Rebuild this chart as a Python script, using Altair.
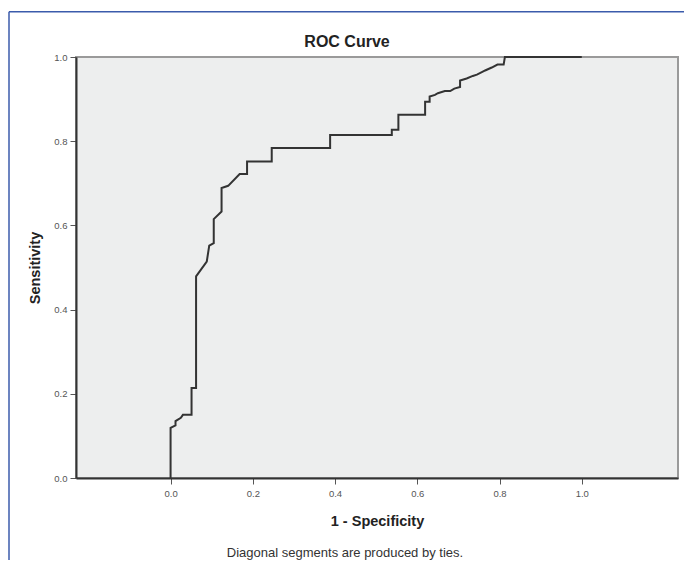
import altair as alt
import pandas as pd

# ROC curve vertices (1 - specificity, sensitivity)
fpr = [0.000, 0.000, 0.012, 0.012, 0.025, 0.030, 0.051, 0.051, 0.062, 0.062,
       0.088, 0.094, 0.105, 0.105, 0.124, 0.124, 0.140, 0.168, 0.186, 0.186,
       0.246, 0.246, 0.388, 0.388, 0.538, 0.538, 0.554, 0.554, 0.619, 0.619,
       0.630, 0.630, 0.643, 0.650, 0.667, 0.680, 0.690, 0.704, 0.704, 0.720,
       0.735, 0.745, 0.757, 0.765, 0.781, 0.795, 0.810, 0.813, 1.000]
tpr = [0.000, 0.119, 0.125, 0.135, 0.143, 0.150, 0.150, 0.214, 0.214, 0.479,
       0.514, 0.552, 0.558, 0.615, 0.633, 0.689, 0.694, 0.722, 0.722, 0.752,
       0.752, 0.784, 0.784, 0.815, 0.815, 0.827, 0.827, 0.863, 0.863, 0.894,
       0.894, 0.906, 0.910, 0.914, 0.919, 0.919, 0.925, 0.929, 0.944, 0.949,
       0.955, 0.958, 0.964, 0.968, 0.975, 0.982, 0.982, 1.000, 1.000]

x_ticks = [0.0, 0.2, 0.4, 0.6, 0.8, 1.0]
y_ticks = [0.0, 0.2, 0.4, 0.6, 0.8, 1.0]
title_text = "ROC Curve"
x_title = "1 - Specificity"
y_title = "Sensitivity"
footnote = "Diagonal segments are produced by ties."

FONT = "Liberation Sans"

df = pd.DataFrame({"fpr": fpr, "tpr": tpr, "i": list(range(len(fpr)))})

curve = alt.Chart(df).mark_line(color="#333333", strokeWidth=2).encode(
    x=alt.X("fpr:Q",
            scale=alt.Scale(domain=[-0.23, 1.234], nice=False, zero=False),
            axis=alt.Axis(values=x_ticks, format=".1f", title=x_title, grid=False,
                          tickSize=6, labelPadding=4, labelFontSize=9.5,
                          labelColor="#555555", labelFont=FONT,
                          tickColor="#555555", domainColor="#333333", domainWidth=2,
                          titleFont=FONT, titleFontSize=14.5, titleFontWeight="bold",
                          titleColor="#222222", titleY=43.7, titleBaseline="middle")),
    y=alt.Y("tpr:Q",
            scale=alt.Scale(domain=[0, 1], nice=False),
            axis=alt.Axis(values=y_ticks, format=".1f", title=y_title, grid=False,
                          tickSize=6, labelPadding=3, labelFontSize=9.5,
                          labelColor="#555555", labelFont=FONT,
                          tickColor="#555555", domainColor="#333333", domainWidth=2,
                          titleFont=FONT, titleFontSize=14.5, titleFontWeight="bold",
                          titleColor="#222222", titleX=-41, titleY=210.5,
                          titleAngle=270, titleBaseline="middle", titleAlign="center")),
    order="i:Q",
)

texts_df = pd.DataFrame({"note": [footnote], "ttl": [title_text]})

title_mark = alt.Chart(texts_df).mark_text(
    font=FONT, fontSize=16, fontWeight="bold", color="#222222",
    align="center", baseline="middle"
).encode(x=alt.value(271), y=alt.value(-15), text="ttl:N")

note = alt.Chart(texts_df).mark_text(
    font=FONT, fontSize=13, color="#333333", align="center", baseline="middle"
).encode(x=alt.value(269), y=alt.value(495.7), text="note:N")

frame_df = pd.DataFrame({"k": [0]})
frame_top = alt.Chart(frame_df).mark_rule(color="#3b5bab", strokeWidth=1.5).encode(
    x=alt.value(-67), x2=alt.value(620), y=alt.value(-45.3))
frame_left = alt.Chart(frame_df).mark_rule(color="#3b5bab", strokeWidth=1.5).encode(
    x=alt.value(-67), y=alt.value(-45.3), y2=alt.value(503))

chart = alt.layer(curve, title_mark, note, frame_top, frame_left).properties(
    width=602, height=421,
    autosize=alt.AutoSizeParams(type="none"),
    padding={"left": 68, "top": 49, "right": 6, "bottom": 82},
).configure(
    background="white",
    view=alt.ViewConfig(fill="#EDEEEE", stroke="#9a9a9a", strokeWidth=2),
)

chart.save("out.html", embed_options={"renderer": "svg", "actions": False})
